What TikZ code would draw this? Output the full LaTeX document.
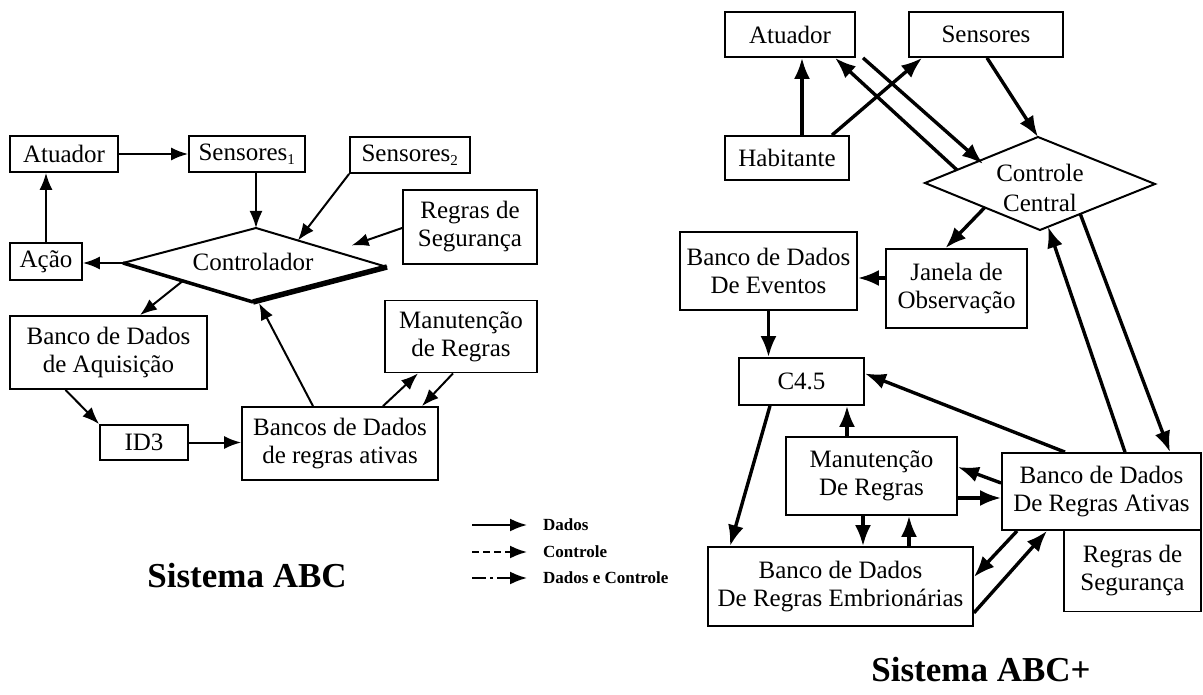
\documentclass[tikz,border=0pt]{standalone}
\usepackage{fontspec}
\setmainfont{Liberation Serif}
\usetikzlibrary{arrows.meta,calc}

\tikzset{
  box/.style={draw,line width=1.8pt,rectangle,inner sep=0pt,align=center,
    font=\fontsize{25}{28}\selectfont},
  thin arrow/.style={line width=2pt,-{Latex[length=17pt,width=13pt]}},
  thick arrow/.style={line width=3.4pt,-{Latex[length=21pt,width=16pt]}},
  legend text/.style={anchor=west,inner sep=0pt,font=\bfseries\fontsize{17}{17}\selectfont},
  title/.style={inner sep=0pt,font=\bfseries\fontsize{35}{35}\selectfont},
}
\newcommand{\subidx}[1]{\textsubscript{\fontsize{15}{15}\selectfont #1}}

\begin{document}
\begin{tikzpicture}[x=1pt,y=-1pt]
\useasboundingbox (0,0) rectangle (1203,695);
\fill[white] (0,0) rectangle (1203,695);

% ---------------- Sistema ABC ----------------
\node[box,minimum width=108pt,minimum height=36pt] (aAt) at (64,154) {Atuador};
\node[box,minimum width=116pt,minimum height=36pt] (aS1) at (247,154) {Sensores\subidx{1}};
\node[box,minimum width=120pt,minimum height=36pt] (aS2) at (410,155) {Sensores\subidx{2}};
\node[box,minimum width=134pt,minimum height=74pt] (aRS) at (470,227) {Regras de\\Segurança};
\node[box,minimum width=72pt,minimum height=37pt] (aAc) at (46,261.5) {Ação};
\node[box,minimum width=197pt,minimum height=73pt] (aBA) at (108.5,352.5) {Banco de Dados\\de Aquisição};
\node[box,minimum width=88pt,minimum height=35pt] (aID) at (144,442.5) {ID3};
\node[box,minimum width=196pt,minimum height=73pt] (aBR) at (340,443.5) {Bancos de Dados\\de regras ativas};
\node[box,minimum width=152pt,minimum height=72pt] (aMR) at (461,336.5) {Manutenção\\de Regras};

% controller diamond, heavier lower edges
\coordinate (cL) at (123,263);
\coordinate (cT) at (256,228);
\coordinate (cR) at (387,267);
\coordinate (cB) at (253,302);
\draw[line width=2pt,line join=miter] (cL) -- (cT) -- (cR);
\draw[line width=3.5pt] (cL) -- (cB);
\draw[line width=5.5pt] (cB) -- (cR);
\node[inner sep=0pt,font=\fontsize{25}{28}\selectfont] (ctrl) at (253,262) {Controlador};

\coordinate (cS2) at ($(cT)!0.32!(cR)$);
\coordinate (cRS) at ($(cT)!0.73!(cR)+(0,-11)$);
\coordinate (cBA) at ($(cL)!0.46!(cB)$);

\draw[thin arrow] (aAt.east) -- (aS1.west);
\draw[thin arrow] (aAc.north) -- (aAc.north |- aAt.south);
\draw[thin arrow] (aS1.south -| cT) -- (cT);
\draw[thin arrow] (aS2.south west) -- (cS2);
\draw[thin arrow] ($(aRS.west)+(0,1)$) -- (cRS);
\draw[thin arrow] (cL) -- (cL -| aAc.east);
\draw[thin arrow] (cBA) -- ($(aBA.north)+(31.5,0)$);
\draw[thin arrow] ($(aBR.north)+(-27,0)$) -- ($(cB)+(6,1)$);
\draw[thin arrow] ($(aBA.south)+(-43,0)$) -- (aID.north west);
\draw[thin arrow] (aID.east) -- (aID.east -| aBR.west);
\draw[thin arrow] ($(aBR.north)+(43,0)$) -- ($(aMR.south)+(-43,0)$);
\draw[thin arrow] ($(aMR.south)+(-8,0)$) -- ($(aBR.north)+(82,0)$);

\node[title] (tABC) at (247,576) {Sistema ABC};

% legend
\coordinate (lgA1) at (472,525); \coordinate (lgA2) at (527,525);
\coordinate (lgB1) at (472,552); \coordinate (lgB2) at (527,552);
\coordinate (lgC1) at (472,578); \coordinate (lgC2) at (527,578);
\draw[thin arrow] (lgA1) -- (lgA2);
\draw[thin arrow,dash pattern=on 7pt off 4pt] (lgB1) -- (lgB2);
\draw[thin arrow,dash pattern=on 14pt off 4pt on 3pt off 4pt] (lgC1) -- (lgC2);
\node[legend text] (lgDados) at (543,525) {Dados};
\node[legend text] (lgCtrl) at (543,552) {Controle};
\node[legend text] (lgBoth) at (543,578) {Dados e Controle};

% ---------------- Sistema ABC+ ----------------
\node[box,minimum width=130pt,minimum height=45pt] (bAt) at (790,34.5) {Atuador};
\node[box,minimum width=154pt,minimum height=45pt] (bSe) at (986,34.5) {Sensores};
\node[box,minimum width=124pt,minimum height=44pt] (bHa) at (787,158) {Habitante};
\node[box,minimum width=177pt,minimum height=78pt] (bEv) at (768.5,271) {Banco de Dados\\De Eventos};
\node[box,minimum width=141pt,minimum height=79pt] (bJa) at (956.5,288.5) {Janela de\\Observação};
\node[box,minimum width=125pt,minimum height=47pt] (bC4) at (801.5,381.5) {C4.5};
\node[box,minimum width=171pt,minimum height=78pt] (bMa) at (871.5,476) {Manutenção\\De Regras};
\node[box,minimum width=199pt,minimum height=77pt] (bRA) at (1101.5,491.5) {Banco de Dados\\De Regras Ativas};
\node[box,minimum width=137pt,minimum height=81pt] (bRS) at (1132.5,571) {Regras de\\Segurança};
\node[box,minimum width=265pt,minimum height=79pt] (bEm) at (840.5,586.5) {Banco de Dados\\De Regras Embrionárias};

% central control diamond
\coordinate (ccL) at (925,183);
\coordinate (ccT) at (1038,137);
\coordinate (ccR) at (1155,184);
\coordinate (ccB) at (1040,230);
\draw[line width=2pt,line join=miter] (ccL) -- (ccT) -- (ccR) -- (ccB) -- cycle;
\node[inner sep=0pt,align=center,font=\fontsize{25}{30}\selectfont] (cc) at (1040,188) {Controle\\Central};

\coordinate (ccAtOut) at ($(ccL)!0.283!(ccT)$);
\coordinate (ccAtIn) at (983,164);
\coordinate (ccJa) at ($(ccL)!0.52!(ccB)$);
\coordinate (ccRAin) at ($(ccB)!0.07!(ccR)$);
\coordinate (ccRAout) at ($(ccB)!0.35!(ccR)$);
\coordinate (jaOut) at ($(bJa.west)+(0,-10.5)$);
\coordinate (evIn) at (jaOut -| bEv.east);

\draw[thick arrow] ($(bHa.north)+(15,0)$) -- ($(bAt.south)+(12,0)$);
\draw[thick arrow] ($(bHa.north)+(45,0)$) -- ($(bSe.south west)+(14,0)$);
\draw[thick arrow] (ccAtOut) -- ($(bAt.south)+(45,0)$);
\draw[thick arrow] ($(bAt.south)+(73,0)$) -- (ccAtIn);
\draw[thick arrow] ($(bSe.south)+(1,0)$) -- (ccT);
\draw[thick arrow] (ccJa) -- ($(bJa.north)+(-11,0)$);
\draw[thick arrow] (jaOut) -- (evIn);
\draw[thick arrow] (bEv.south) -- (bEv.south |- bC4.north);
\draw[thick arrow] ($(bRA.north)+(23.5,0)$) -- (ccRAin);
\draw[thick arrow] (ccRAout) -- ($(bRA.north)+(68.5,0)$);
\draw[thick arrow] ($(bRA.north)+(-36.5,0)$) -- ($(bC4.east)+(0,-8)$);
\draw[thick arrow] ($(bMa.north)+(-24.5,0)$) -- ($(bC4.south)+(45.5,0)$);
\draw[thick arrow] ($(bRA.west)+(0,-8.5)$) -- ($(bMa.east)+(0,-9)$);
\draw[thick arrow] ($(bMa.east)+(0,22)$) -- ($(bRA.west)+(0,6.5)$);
\draw[thick arrow] ($(bC4.south)+(-31.5,0)$) -- ($(bEm.north)+(-110.5,0)$);
\draw[thick arrow] ($(bMa.south)+(-8.5,0)$) -- ($(bEm.north)+(22.5,0)$);
\draw[thick arrow] ($(bEm.north)+(68.5,0)$) -- ($(bMa.south)+(37.5,0)$);
\draw[thick arrow] ($(bRA.south west)+(16,0)$) -- ($(bEm.east)+(0,-9.5)$);
\draw[thick arrow] ($(bEm.south east)+(0,-14)$) -- ($(bRA.south)+(-54.5,0)$);

\node[title] (tABCp) at (981,670) {Sistema ABC+};
\end{tikzpicture}
\end{document}
